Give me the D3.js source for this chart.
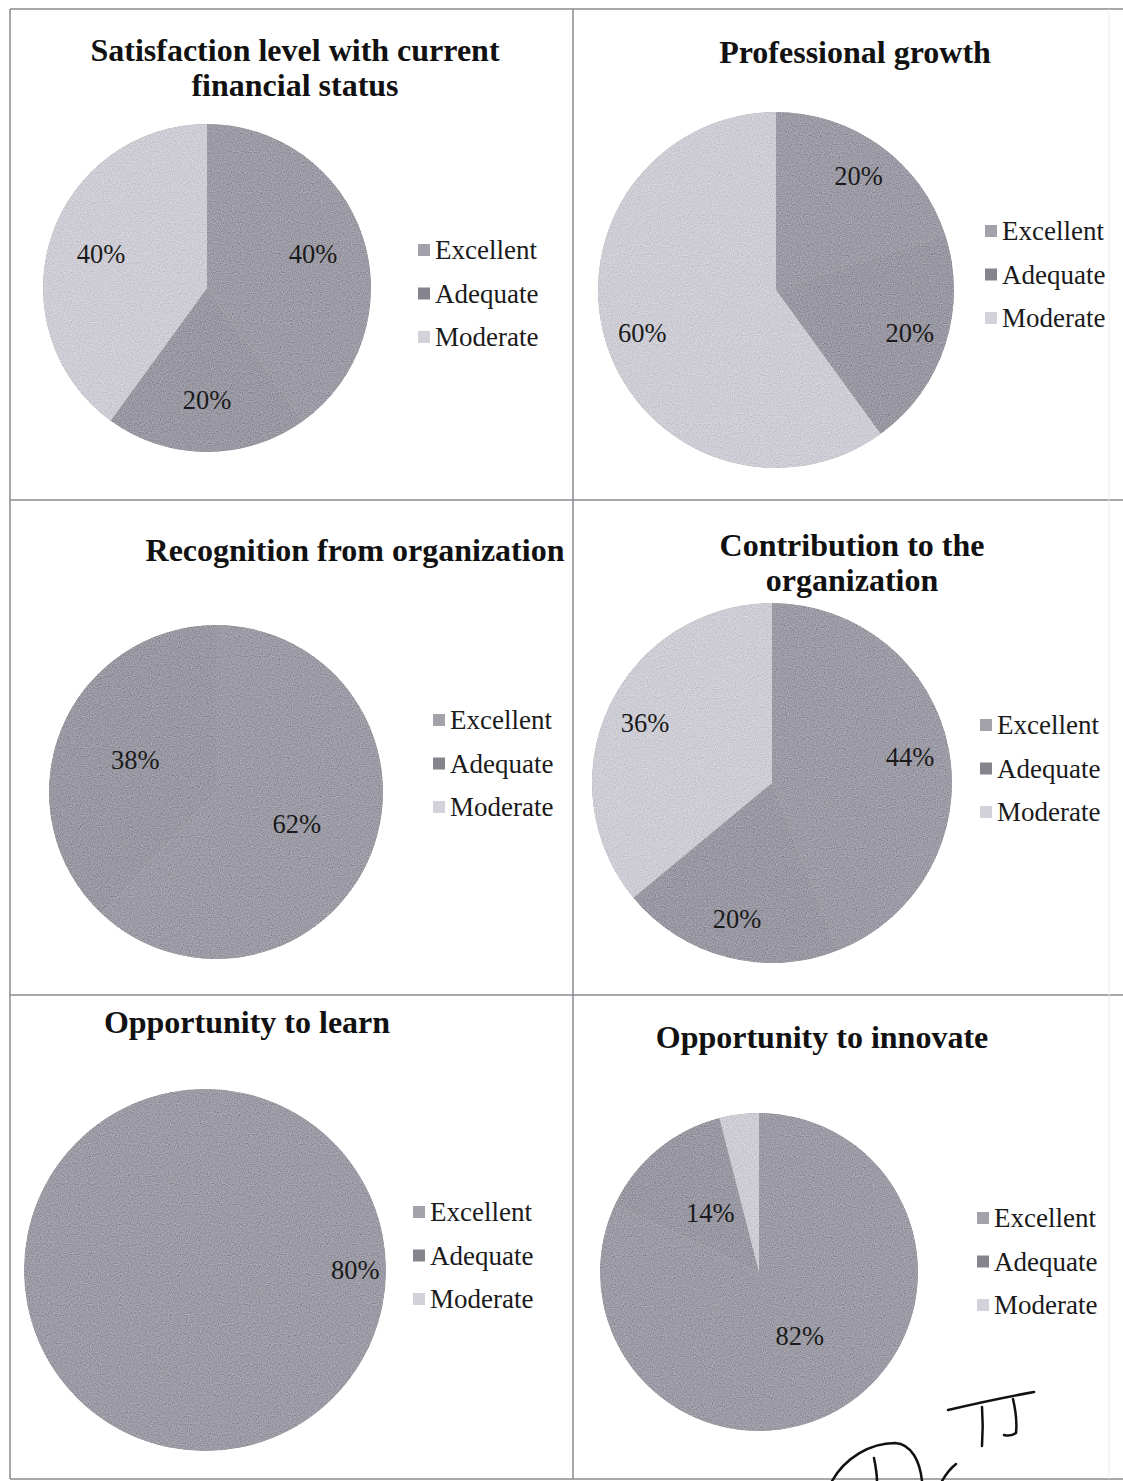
<!DOCTYPE html>
<html>
<head>
<meta charset="utf-8">
<script src="https://cdn.jsdelivr.net/npm/d3@7"></script>
<style>
  body { margin: 0; background: #fff; }
  svg { display: block; }
</style>
</head>
<body>
<div id="showBox"></div>
<script>
// data
const categories = ["Excellent", "Adequate", "Moderate"]
const titles = [
    ["Satisfaction level with current", "financial status"],
    ["Professional growth"],
    ["Recognition from organization"],
    ["Contribution to the", "organization"],
    ["Opportunity to learn"],
    ["Opportunity to innovate"]
]
const excellent = [40, 20, 62, 44, 80, 82]
const adequate  = [20, 20, 38, 20, 0, 14]
const moderate  = [40, 60, 0, 36, 0, 4]

// where each panel sits on the page (Excel auto-placed them a bit differently)
const layout = [
    {tx: 295, ty: 50,   cx: 207, cy: 288,  r: 164, lx: 418, ly: 250,  lr: 0.68},
    {tx: 855, ty: 52,   cx: 776, cy: 290,  r: 178, lx: 985, ly: 231,  lr: 0.79},
    {tx: 355, ty: 550,  cx: 216, cy: 792,  r: 167, lx: 433, ly: 720,  lr: 0.52},
    {tx: 852, ty: 545,  cx: 772, cy: 783,  r: 180, lx: 980, ly: 725,  lr: 0.78},
    {tx: 247, ty: 1022, cx: 205, cy: 1270, r: 181, lx: 413, ly: 1212, lr: 0.83},
    {tx: 822, ty: 1037, cx: 759, cy: 1272, r: 159, lx: 977, ly: 1218, lr: 0.48}
]

const W = 1123, H = 1481
const serif = "'Liberation Serif', 'DejaVu Serif', serif"

const color = d3.scaleOrdinal()
    .domain(categories)
    .range(["#9d9ca6", "#9a99a3", "#cecdd5"])
const markColor = d3.scaleOrdinal()
    .domain(categories)
    .range(["#a3a2aa", "#85848d", "#d3d2da"])

const svg = d3.select("#showBox").append("svg")
    .attr("width", W).attr("height", H)

// scanner grain
const f = svg.append("defs").append("filter").attr("id", "grain")
f.append("feTurbulence").attr("type", "fractalNoise").attr("baseFrequency", 0.9)
    .attr("numOctaves", 1).attr("seed", 4).attr("result", "noise")
f.append("feColorMatrix").attr("in", "noise").attr("type", "matrix")
    .attr("values", "0.33 0.33 0.33 0 0  0.33 0.33 0.33 0 0  0.33 0.33 0.33 0 0  0 0 0 0 1")
    .attr("result", "gray")
f.append("feComposite").attr("in", "SourceGraphic").attr("in2", "gray")
    .attr("operator", "arithmetic").attr("k1", 0).attr("k2", 1).attr("k3", 0.7).attr("k4", -0.35)
    .attr("result", "mix")
f.append("feComposite").attr("in", "mix").attr("in2", "SourceGraphic").attr("operator", "in")

// table rules of the page
const grid = svg.append("g").attr("stroke", "#8a8a90").attr("stroke-width", 1.5).attr("fill", "none")
const xs = [10, 573]
const ys = [9, 500, 995, 1479]
ys.forEach(y => grid.append("line").attr("x1", xs[0]).attr("x2", W).attr("y1", y).attr("y2", y))
xs.forEach(x => grid.append("line").attr("x1", x).attr("x2", x).attr("y1", ys[0]).attr("y2", ys[3]))
grid.append("line").attr("x1", 1109).attr("x2", 1109).attr("y1", ys[0]).attr("y2", ys[3])
    .attr("stroke", "#ececef").attr("stroke-width", 1)

const pie = d3.pie().sort(null).value(d => d.value)

titles.forEach((title, i) => {
    const L = layout[i]
    const data = categories.map((c, k) => ({name: c, value: [excellent, adequate, moderate][k][i]}))
    const g = svg.append("g")

    g.append("g")
        .attr("font-family", serif).attr("font-weight", "bold").attr("font-size", 32)
        .attr("text-anchor", "middle").attr("fill", "#111")
        .selectAll("text").data(title).join("text")
        .attr("x", L.tx).attr("y", (d, j) => L.ty + j * 35)
        .attr("dominant-baseline", "central")
        .text(d => d)

    const arcs = pie(data).filter(d => d.value > 0)
    const arc = d3.arc().innerRadius(0).outerRadius(L.r)
    const labelArc = d3.arc().innerRadius(L.r * L.lr).outerRadius(L.r * L.lr)

    const p = g.append("g").attr("transform", `translate(${L.cx},${L.cy})`)
    p.append("g").attr("filter", "url(#grain)")
        .selectAll("path").data(arcs).join("path")
        .attr("d", arc)
        .attr("fill", d => color(d.data.name))

    p.append("g")
        .attr("font-family", serif).attr("font-size", 26.5).attr("fill", "#1a1a1a")
        .attr("text-anchor", "middle").attr("dominant-baseline", "central")
        .selectAll("text").data(arcs.filter(d => d.value >= 5)).join("text")
        .attr("transform", d => {
            // a lone full-circle slice gets its label at the right side
            if (d.endAngle - d.startAngle >= 2 * Math.PI - 1e-6) return `translate(${L.r * L.lr},0)`
            return `translate(${labelArc.centroid(d)})`
        })
        .text(d => d.data.value + "%")

    const leg = g.append("g").attr("transform", `translate(${L.lx},${L.ly})`)
        .selectAll("g").data(categories).join("g")
        .attr("transform", (d, j) => `translate(0,${j * 43.5})`)
    leg.append("rect").attr("x", 0).attr("y", -6).attr("width", 12).attr("height", 12)
        .attr("fill", d => markColor(d))
    leg.append("text").attr("x", 17).attr("dominant-baseline", "central")
        .attr("font-family", serif).attr("font-size", 27).attr("fill", "#1a1a1a")
        .text(d => d)
})

// handwritten initials at the foot of the page
const ink = svg.append("g").attr("fill", "none").attr("stroke", "#111").attr("stroke-width", 2.5)
    .attr("stroke-linecap", "round")
ink.append("path").attr("d", "M948,1410 C978,1403 1006,1397 1034,1392")
ink.append("path").attr("d", "M982,1407 C983,1420 983,1432 982,1446")
ink.append("path").attr("d", "M1013,1399 C1016,1412 1017,1424 1016,1433 C1012,1436 1008,1436 1004,1435")
ink.append("path").attr("d", "M832,1481 C845,1458 870,1443 895,1443 C912,1444 920,1462 922,1481")
ink.append("path").attr("d", "M874,1458 C876,1468 877,1476 877,1481")
ink.append("path").attr("d", "M942,1481 C946,1474 951,1468 956,1464")
</script>
</body>
</html>
